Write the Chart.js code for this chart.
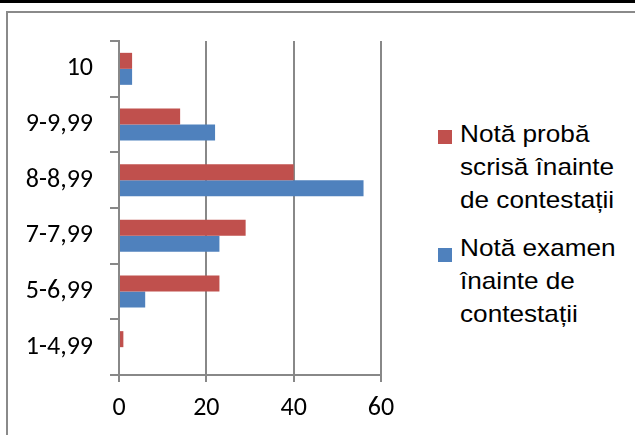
<!DOCTYPE html>
<html>
<head>
<meta charset="utf-8">
<script src="https://cdn.jsdelivr.net/npm/chart.js@4/dist/chart.umd.min.js"></script>
<style>
html,body{margin:0;padding:0;background:#fff}
#wrap{position:relative;width:635px;height:435px;overflow:hidden;background:#fff}
#topbar{position:absolute;left:0;top:0;width:635px;height:3px;background:#000}
#frame{position:absolute;left:6px;top:11px;width:700px;height:500px;border-top:2px solid #8a8a8a;border-left:2px solid #8a8a8a}
#c{position:absolute;left:0;top:0}
.lg{position:absolute;left:438px;font:24px "Liberation Sans",Arial,sans-serif;color:#000}
.lg .sw{position:absolute;left:0;width:14px;height:14px}
.lg .tx{position:absolute;left:22px;top:0;line-height:33px;white-space:nowrap;transform:scaleX(1.09);transform-origin:0 0}
</style>
</head>
<body>
<div id="wrap">
  <div id="topbar"></div>
  <div id="frame"></div>
  <canvas id="c" width="430" height="435"></canvas>
  <div class="lg" style="top:117px"><div class="sw" style="top:13px;background:#c0504d"></div><div class="tx">Notă probă<br>scrisă înainte<br>de contestații</div></div>
  <div class="lg" style="top:231px"><div class="sw" style="top:17px;background:#4f81bd"></div><div class="tx">Notă examen<br>înainte de<br>contestații</div></div>
</div>
<script>
// grade intervals, top to bottom
const grupe=["10","9-9,99","8-8,99","7-7,99","5-6,99","1-4,99"];
// written test grade before appeals
const notaProba=[3,14,40,29,23,1];
// exam grade before appeals
const notaExamen=[3,22,56,23,6,0];
// value axis
const xMin=0,xMax=60,xStep=20;

const gridCol="#888888";
const tickFont={family:"Carlito, 'Open Sans', sans-serif",size:26};

new Chart(document.getElementById("c"),{
  type:"bar",
  data:{labels:grupe,datasets:[
    {label:"Notă probă scrisă înainte de contestații",data:notaProba,backgroundColor:"#c0504d"},
    {label:"Notă examen înainte de contestații",data:notaExamen,backgroundColor:"#4f81bd"}
  ]},
  options:{
    indexAxis:"y",responsive:false,animation:false,devicePixelRatio:1,
    categoryPercentage:0.575,barPercentage:1,
    layout:{padding:{top:41,right:49,left:0,bottom:0}},
    plugins:{legend:{display:false},tooltip:{enabled:false}},
    scales:{
      x:{min:xMin,max:xMax,
        ticks:{stepSize:xStep,color:"#000",font:tickFont,padding:11},
        grid:{color:gridCol,lineWidth:2,tickLength:7,drawTicks:true},
        border:{display:true,color:gridCol,width:2},
        afterFit:s=>{s.height=60}},
      y:{offset:true,
        ticks:{color:"#000",font:tickFont,padding:17},
        grid:{offset:true,drawOnChartArea:false,color:gridCol,lineWidth:2,tickLength:9},
        border:{display:true,color:gridCol,width:2},
        afterFit:s=>{s.width=119}}
    }
  }
});
</script>
</body>
</html>
